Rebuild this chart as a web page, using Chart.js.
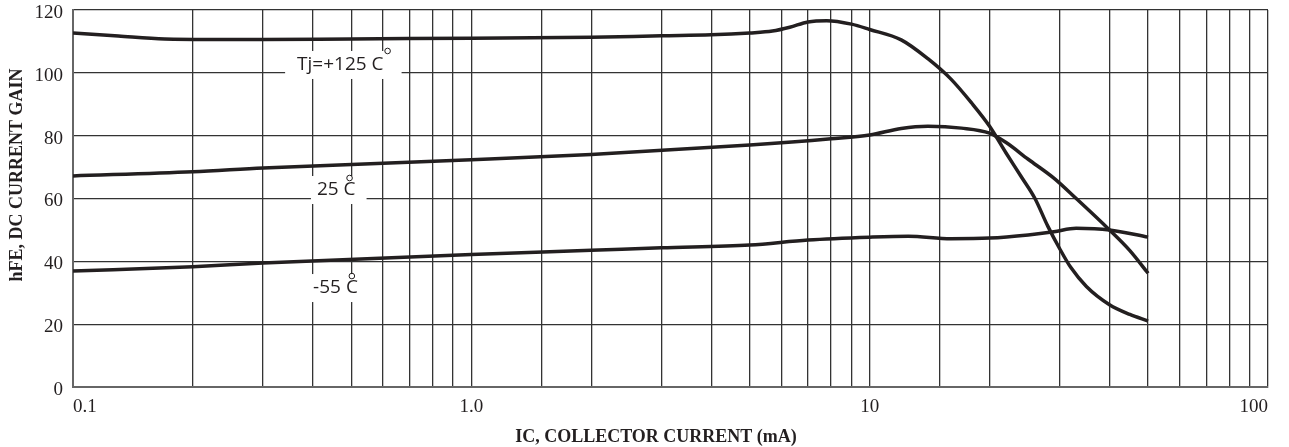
<!DOCTYPE html>
<html>
<head>
<meta charset="utf-8">
<script src="https://cdn.jsdelivr.net/npm/chart.js@4"></script>
<style>
  html, body { margin: 0; padding: 0; background: #fff; }
  #wrap { width: 1289px; height: 447px; }
</style>
</head>
<body>
<div id="wrap"><canvas id="hfeChart"></canvas></div>
<script>
// hFE vs IC, three junction temperatures

const current125 = [0.1, 0.13, 0.17, 0.3, 0.5, 1, 2, 3, 4, 5, 5.7, 6.3, 7, 7.8, 9, 10, 12, 14, 16, 18, 20, 22, 24, 26, 28, 30, 32, 35, 40, 45, 50];
const gain125    = [112.7, 111.7, 110.8, 110.6, 110.8, 111, 111.3, 111.8, 112.1, 112.7, 113.3, 114.5, 116.2, 116.6, 115.5, 113.8, 110.5, 104.5, 98, 90.5, 83, 74.5, 67, 60, 51.2, 44, 38, 32, 26.2, 23.1, 21];

const current25 = [0.1, 0.2, 0.3, 1, 2, 5, 8, 10, 12, 14, 17, 20, 22, 25, 29, 33, 40, 45, 50];
const gain25    = [67.2, 68.5, 69.7, 72.3, 74, 77, 79, 80.2, 82.3, 83, 82.4, 80.8, 77.8, 72.5, 66.5, 60, 50, 43.4, 36.2];

const currentM55 = [0.1, 0.2, 0.3, 1, 2, 3, 5, 7, 10, 12.5, 16, 20, 25, 29, 33, 40, 50];
const gainM55    = [36.9, 38.3, 39.5, 42.2, 43.5, 44.3, 45.2, 46.8, 47.7, 48, 47.2, 47.4, 48.4, 49.4, 50.5, 50, 47.7];

const xTickLabels = {0.1: '0.1', 1: '1.0', 10: '10', 100: '100'};

const xTitle = 'IC, COLLECTOR CURRENT (mA)';
const yTitle = 'hFE, DC CURRENT GAIN';

// curve labels: text, x (mA), y (gain), degree-mark placement
const curveLabels = [
  { text: 'Tj=+125 C', x: 0.469, y: 102.5, degOnTop: false },
  { text: '25 C',      x: 0.458, y: 62.7,  degOnTop: true },
  { text: '-55 C',     x: 0.456, y: 31.5,  degOnTop: true }
];

const toPts = (xs, ys) => xs.map((x, i) => ({ x: x, y: ys[i] }));

const curveStyle = {
  borderColor: '#231f20',
  borderWidth: 3.5,
  pointRadius: 0,
  fill: false,
  cubicInterpolationMode: 'monotone'
};

const labelPlugin = {
  id: 'curveLabels',
  afterDatasetsDraw(chart) {
    const ctx = chart.ctx;
    const xs = chart.scales.x, ys = chart.scales.y;
    ctx.save();
    ctx.font = '19px "Open Sans"';
    ctx.textAlign = 'center';
    ctx.textBaseline = 'middle';
    curveLabels.forEach(l => {
      const px = xs.getPixelForValue(l.x);
      const py = ys.getPixelForValue(l.y);
      const w = ctx.measureText(l.text).width;
      const padL = l.degOnTop ? 6 : 12;
      const padR = l.degOnTop ? 11 : 18;
      ctx.fillStyle = '#fff';
      ctx.fillRect(px - w / 2 - padL, py - 14, w + padL + padR, 28);
      ctx.fillStyle = '#231f20';
      ctx.fillText(l.text, px, py);
      // degree mark
      const right = px + w / 2;
      ctx.beginPath();
      if (l.degOnTop) ctx.arc(right - 6, py - 12, 2.8, 0, Math.PI * 2);
      else ctx.arc(right + 4, py - 14, 2.8, 0, Math.PI * 2);
      ctx.lineWidth = 1;
      ctx.strokeStyle = '#231f20';
      ctx.stroke();
    });
    ctx.restore();
  },
  afterDraw(chart) {
    const ctx = chart.ctx;
    ctx.save();
    ctx.fillStyle = '#231f20';
    ctx.textAlign = 'center';
    ctx.textBaseline = 'middle';
    ctx.font = 'bold 18px "Liberation Serif"';
    ctx.fillText(xTitle, 656, 437);
    ctx.translate(17, 175);
    ctx.rotate(-Math.PI / 2);
    ctx.fillText(yTitle, 0, 0);
    ctx.restore();
  }
};

const ctx = document.getElementById('hfeChart');
const hfeChart = new Chart(ctx, {
  type: 'line',
  data: {
    datasets: [
      Object.assign({ label: '+125', data: toPts(current125, gain125) }, curveStyle),
      Object.assign({ label: '25', data: toPts(current25, gain25) }, curveStyle),
      Object.assign({ label: '-55', data: toPts(currentM55, gainM55) }, curveStyle)
    ]
  },
  options: {
    responsive: true,
    maintainAspectRatio: false,
    animation: false,
    layout: { padding: { left: 0, top: 10, right: 21, bottom: 0 } },
    plugins: { legend: { display: false }, tooltip: { enabled: false } },
    scales: {
      x: {
        type: 'logarithmic',
        min: 0.1,
        max: 100,
        afterFit: s => { s.height = 60; s.paddingLeft = 0; s.paddingRight = 0; },
        grid: { color: '#333', lineWidth: 1.3, drawTicks: false },
        border: { color: '#666', width: 2 },
        ticks: {
          autoSkip: false,
          maxRotation: 0,
          align: 'inner',
          padding: 9,
          color: '#231f20',
          font: { family: '"Liberation Serif"', size: 19 },
          callback: v => xTickLabels[v] !== undefined ? xTickLabels[v] : ''
        }
      },
      y: {
        min: 0,
        max: 120,
        afterFit: s => { s.width = 73; s.paddingTop = 0; s.paddingBottom = 0; },
        grid: { color: '#333', lineWidth: 1.3, drawTicks: false },
        border: { color: '#666', width: 2 },
        ticks: {
          stepSize: 20,
          padding: 10,
          labelOffset: 3,
          color: '#231f20',
          font: { family: '"Liberation Serif"', size: 19 }
        }
      }
    }
  },
  plugins: [labelPlugin]
});
</script>
</body>
</html>
